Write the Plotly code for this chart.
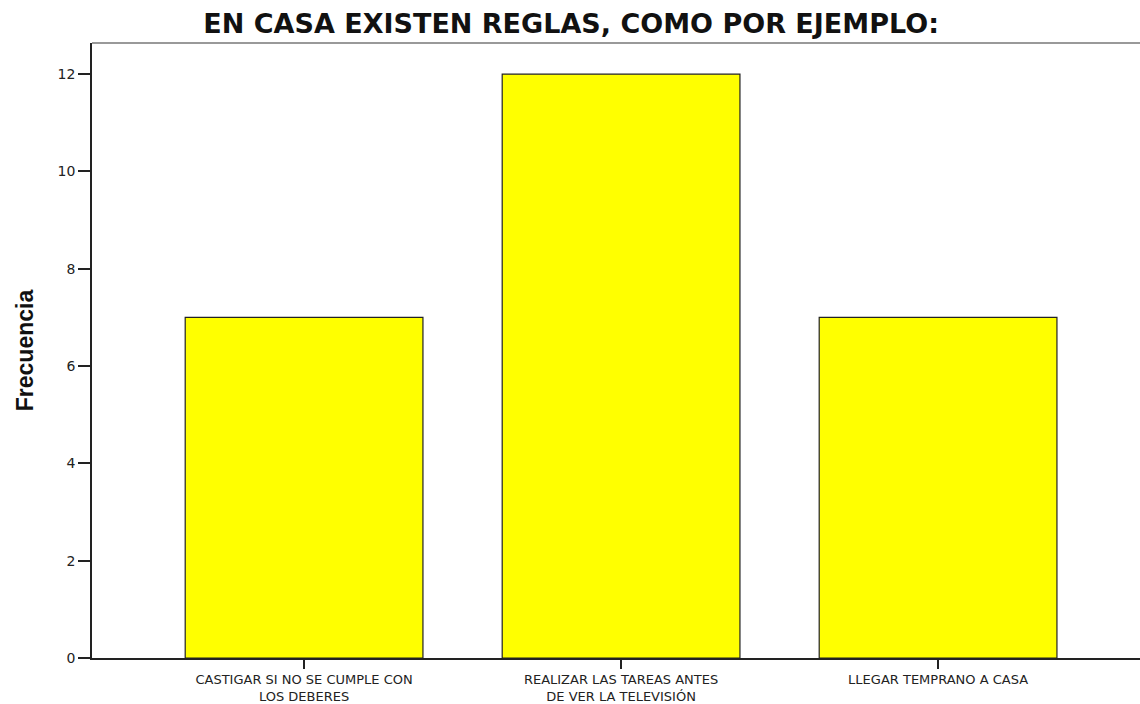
import plotly.graph_objects as go

categories = ["CASTIGAR SI NO SE CUMPLE CON<br>LOS DEBERES",
              "REALIZAR LAS TAREAS ANTES<br>DE VER LA TELEVISIÓN",
              "LLEGAR TEMPRANO A CASA"]
frecuencia = [7, 12, 7]
y_ticks = [0, 2, 4, 6, 8, 10, 12]

fig = go.Figure(go.Bar(
    x=list(range(len(categories))), y=frecuencia,
    width=0.75,
    marker=dict(color="#FFFF00", line=dict(color="#222222", width=1.2)),
))

fig.update_layout(
    width=1140, height=704,
    margin=dict(l=92, r=0, t=43, b=46),
    paper_bgcolor="white", plot_bgcolor="white",
    title=dict(text="<b>EN CASA EXISTEN REGLAS, COMO POR EJEMPLO:</b>",
               x=0.501, xanchor="center", y=0.966, yanchor="middle",
               font=dict(family="DejaVu Sans, Liberation Sans, Arial", size=27, color="#111111")),
    showlegend=False,
    xaxis=dict(range=[-0.669, 2.637], tickmode="array",
               tickvals=list(range(len(categories))), ticktext=categories,
               ticks="outside", ticklen=9, tickcolor="#222222", tickwidth=1.5,
               showline=True, linecolor="#222222", linewidth=1.5,
               showgrid=False, zeroline=False, automargin=False,
               tickfont=dict(family="DejaVu Sans, Liberation Sans, Arial", size=13, color="#222222")),
    yaxis=dict(range=[0, 12.64], tickvals=y_ticks,
               ticks="outside", ticklen=12, tickcolor="#222222", tickwidth=1.5,
               showline=True, linecolor="#222222", linewidth=1.5,
               showgrid=False, zeroline=False, automargin=False,
               tickfont=dict(family="DejaVu Sans, Liberation Sans, Arial", size=14, color="#222222"),
               title=dict(text="<b>Frecuencia</b>", standoff=18,
                          font=dict(family="Liberation Sans, Arial", size=23, color="#111111"))),
    shapes=[dict(type="line", xref="paper", yref="paper", x0=0, x1=1, y0=1, y1=1,
                 line=dict(color="#999999", width=2))],
)

fig.write_html("out.html", config={"displayModeBar": False},
               post_script="document.body.style.margin='0';")
